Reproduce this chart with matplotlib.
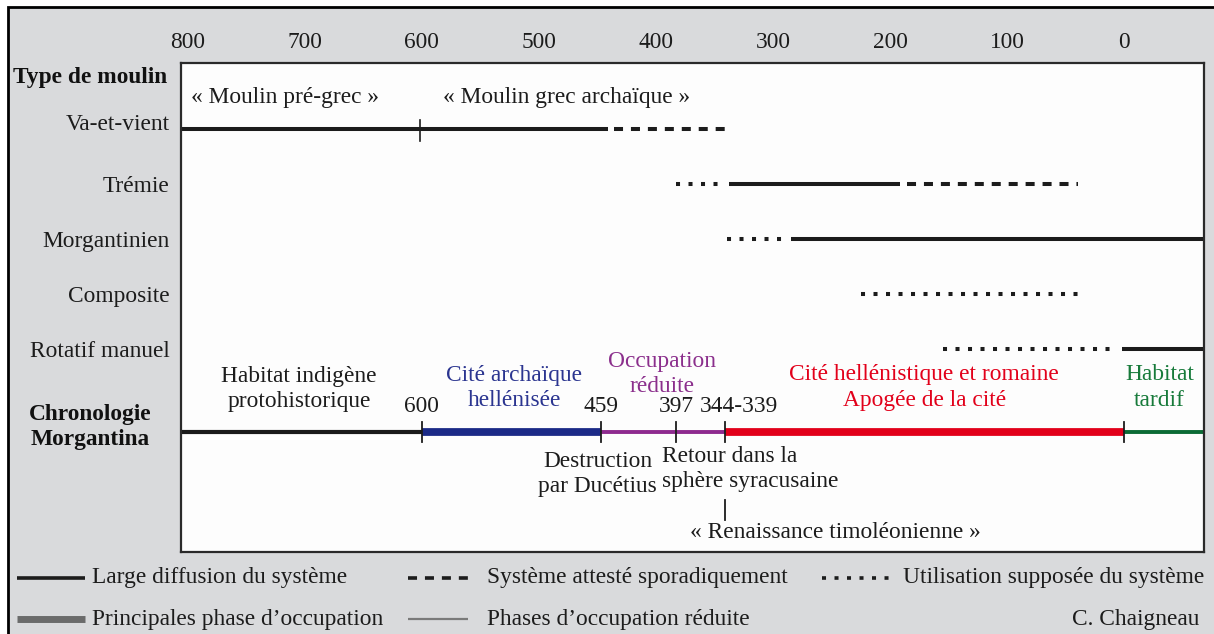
import numpy as np
import matplotlib
matplotlib.use("Agg")
import matplotlib.pyplot as plt
from matplotlib.patches import Rectangle
import matplotlib.transforms as mtransforms

plt.rcParams['font.family'] = ['Liberation Serif', 'DejaVu Serif']
plt.rcParams['lines.scale_dashes'] = False

# data ---------------------------------------------------------------
years = [800, 700, 600, 500, 400, 300, 200, 100, 0]
rows = ['Va-et-vient', 'Trémie', 'Morgantinien', 'Composite', 'Rotatif manuel']

# mill types: row index, start, end (years BC), kind
seg_row = [0, 0, 1, 1, 1, 2, 2, 3, 4, 4]
seg_start = [806, 436, 383, 338, 186, 339, 285, 225, 155, 2]
seg_end = [441, 338, 342, 192, 40, 292, -68, 39, 8, -68]
seg_kind = ['solid', 'dashed', 'dotted', 'solid', 'dashed',
            'dotted', 'solid', 'dotted', 'dotted', 'solid']

# Morgantina chronology
chron_start = [806, 600, 447, 341, 0]
chron_end = [600, 447, 341, 0, -68]
chron_color = ['#1a1a1a', '#1b2a87', '#8e2a8f', '#e2001a', '#0b6b35']
chron_lw = [3.0, 5.6, 2.8, 5.6, 2.8]
chron_ticks = [600, 447, 383, 341, 0]
chron_tick_labels = ['600', '459', '397', '344-339']

W, H = 1214, 634
BG = '#d9dadc'
INK = '#1c1c1c'

fig = plt.figure(figsize=(W / 100, H / 100), dpi=100, facecolor='white')

# decoration layer in pixel coordinates
deco = fig.add_axes([0, 0, 1, 1], zorder=0)
deco.set_xlim(0, W)
deco.set_ylim(H, 0)
deco.axis('off')
deco.add_patch(Rectangle((8, 7), W + 20, H + 20, facecolor=BG,
                         edgecolor='black', lw=2.0))

# main box
left, top, right, bottom = 180.7, 63, 1204, 552
ax = fig.add_axes([left / W, 1 - bottom / H, (right - left) / W, (bottom - top) / H],
                  zorder=1)
ax.set_facecolor('#fdfdfd')
for s in ax.spines.values():
    s.set_color('#2a2a2a')
    s.set_linewidth(1.6)

row_y = 128.7 + 55 * np.arange(len(rows))
chron_y = 431.7
ax.set_xlim(806, -68)
ax.set_ylim(bottom, top)

fs = 16.8
ax.xaxis.tick_top()
ax.set_xticks(years)
ax.set_xticklabels([str(v) for v in years], fontsize=fs, color=INK)
ax.tick_params(axis='x', length=0, pad=7)
ax.set_yticks(row_y)
ax.set_yticklabels(rows, fontsize=fs, color=INK)
ax.tick_params(axis='y', length=0, pad=8)
lab0 = ax.get_yticklabels()[0]
lab0.set_transform(lab0.get_transform() +
                   mtransforms.ScaledTranslation(0, 7 / 100, fig.dpi_scale_trans))

styles = {
    'solid': dict(linestyle='-'),
    'dashed': dict(linestyle=(0, (6.5, 5.7))),
    'dotted': dict(linestyle=(0, (2.9, 6.1))),
}
for r, a, b, k in zip(seg_row, seg_start, seg_end, seg_kind):
    ax.plot([a, b], [row_y[r], row_y[r]], color=INK, lw=2.9,
            solid_capstyle='butt', dash_capstyle='butt', **styles[k])

# tick on Va-et-vient at 600
ax.plot([602, 602], [row_y[0] - 9, row_y[0] + 12], color=INK, lw=1.2)

for a, b, c, w in zip(chron_start, chron_end, chron_color, chron_lw):
    ax.plot([a, b], [chron_y, chron_y], color=c, lw=w, solid_capstyle='butt')
for t in chron_ticks:
    ax.plot([t, t], [chron_y - 10, chron_y + 10], color=INK, lw=1.3)

ax.text(797, 98, '« Moulin pré-grec »', fontsize=fs, ha='left', va='center', color=INK)
ax.text(582, 98, '« Moulin grec archaïque »', fontsize=fs, ha='left', va='center', color=INK)

for lab, x in zip(chron_tick_labels, [600, 447, 383, 329]):
    ax.text(x, 407, lab, fontsize=fs, ha='center', va='center', color=INK)

LS = 1.3
ml = dict(fontsize=fs, ha='center', va='center', linespacing=LS)
ax.text(705, 389, 'Habitat indigène\nprotohistorique', color=INK, **ml)
ax.text(521, 388, 'Cité archaïque\nhellénisée', color='#2b3590', **ml)
ax.text(395, 374, 'Occupation\nréduite', color='#8b2f8c', **ml)
ax.text(171, 387.5, 'Cité hellénistique et romaine\nApogée de la cité', color='#e2001a', **ml)
ax.text(-30, 387.5, 'Habitat\ntardif', color='#177a3a', **ml)
ax.text(450, 474, 'Destruction\npar Ducétius', color=INK, **ml)
ax.text(395, 469, 'Retour dans la\nsphère syracusaine', color=INK, fontsize=fs,
        ha='left', va='center', linespacing=LS)
ax.plot([341, 341], [500, 520], color=INK, lw=1.3)
ax.text(247, 533, '« Renaissance timoléonienne »', fontsize=fs, ha='center',
        va='center', color=INK)

# side labels
deco.text(90, 77, 'Type de moulin', fontsize=fs, fontweight='bold', ha='center',
          va='center', color='#111111')
deco.text(90, 427, 'Chronologie\nMorgantina', fontsize=fs, fontweight='bold',
          ha='center', va='center', linespacing=LS, color='#111111')

# legend
lg = dict(fontsize=fs, ha='left', va='center', color=INK)
deco.plot([17, 85], [578, 578], color=INK, lw=2.6, solid_capstyle='butt')
deco.text(92, 578, 'Large diffusion du système', **lg)
deco.plot([408, 468], [578, 578], color=INK, lw=2.6, linestyle=(0, (6.5, 5.7)),
          dash_capstyle='butt')
deco.text(487, 578, 'Système attesté sporadiquement', **lg)
deco.plot([822, 890], [578, 578], color=INK, lw=2.6, linestyle=(0, (2.9, 6.1)),
          dash_capstyle='butt')
deco.text(903, 578, 'Utilisation supposée du système', **lg)
deco.plot([17, 85], [619, 619], color='#6b6b6b', lw=5.0, solid_capstyle='butt')
deco.text(92, 619, 'Principales phase d\u2019occupation', **lg)
deco.plot([408, 468], [619, 619], color='#7a7a7a', lw=1.6, solid_capstyle='butt')
deco.text(487, 619, 'Phases d\u2019occupation réduite', **lg)
deco.text(1199, 619, 'C. Chaigneau', fontsize=fs, ha='right', va='center', color=INK)

fig.savefig('out.png', dpi=100, facecolor=fig.get_facecolor())
